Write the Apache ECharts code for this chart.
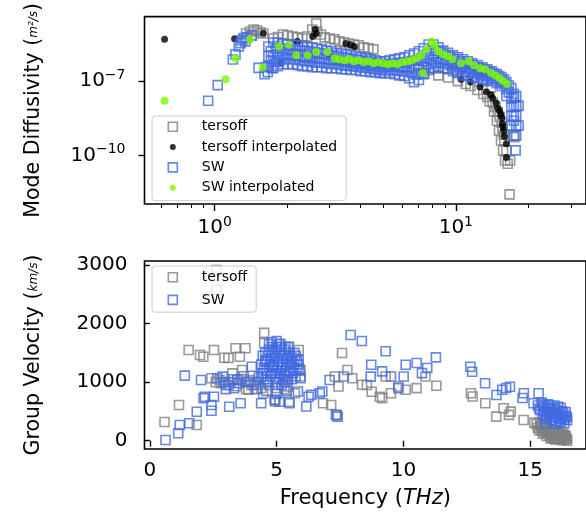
<!DOCTYPE html>
<html><head><meta charset="utf-8">
<script src="https://cdn.jsdelivr.net/npm/echarts@6/dist/echarts.min.js"></script>
<style>html,body{margin:0;padding:0;background:#fff}#c{width:586px;height:523px}</style>
</head><body><div id="c"></div>
<script>
// ---------- tick labels ----------
const topXTicks = [1, 10];
const topXMinorTicks = [0.6, 0.7, 0.8, 0.9, 2, 3, 4, 5, 6, 7, 8, 9, 20, 30];
const topYTicks = [1e-10, 1e-7];
const botXTicks = [0, 5, 10, 15];
const botYTicks = [0, 1000, 2000, 3000];

// ---------- top panel: mode diffusivity (m^2/s) vs frequency (THz) ----------
const topTersoff = [
 [1.35,8.3e-6],[1.40,1.0e-5],[1.45,1.2e-5],[1.50,1.1e-5],[1.55,9.1e-6],[1.59,8.3e-6],[1.42,7.0e-6],
 [1.75,5.2e-6],[1.83,6.0e-6],[1.92,7.6e-6],[2.01,6.9e-6],[2.11,6.3e-6],[2.21,5.8e-6],[2.31,5.2e-6],[2.42,6.3e-6],
 [2.54,1.2e-5],[2.64,2.1e-5],[2.66,1.0e-5],[2.76,7.6e-6],[2.86,5.8e-6],[3.00,5.2e-6],[3.14,4.8e-6],[3.29,4.0e-6],
 [3.45,3.6e-6],[3.61,3.3e-6],[3.78,3.0e-6],[3.96,2.8e-6],[4.15,2.3e-6],[4.34,2.1e-6],[4.55,1.9e-6],
 [2.50,1.0e-6],[3.50,6.0e-7],[5.00,4.0e-7],[6.00,3.5e-7],[7.00,3.0e-7],[7.40,2.0e-7],[7.90,3.3e-7],
 [8.46,1.7e-7],[9.29,1.4e-7],[10.2,1.0e-7],[11.0,7.6e-8],[11.5,6.3e-8],[12.3,4.4e-8],[13.0,3.0e-8],[13.5,2.3e-8],
 [14.2,1.4e-8],[14.6,9.1e-9],[14.9,5.8e-9],[15.2,3.6e-9],[15.5,2.1e-9],[15.6,1.2e-9],[15.8,6.9e-10],[15.9,4.0e-10],
 [16.2,1.6e-10],[16.4,4.6e-11],[16.7,2.7e-12],[16.8,6.3e-11],[17.5,5.4e-10],
 [13.8,1.5e-8],[14.4,6.0e-9],[14.8,2.5e-9],[15.1,1.0e-9],[15.4,4.0e-10],[15.7,1.6e-10],[16.0,6.3e-11],
 [9.0,3.3e-7],[10.0,2.8e-7],[11.0,2.1e-7],[12.0,1.5e-7],[13.0,1.0e-7],[14.0,5.5e-8]
];
const topTersoffInterp = [
 [0.62,4.9e-6],[1.21,5.1e-6],[1.59,8.5e-6],[1.88,5.4e-7],[2.61,1.2e-5],[2.64,8.5e-6],[2.55,6.3e-6],
 [3.50,3.3e-6],[3.66,2.9e-6],[3.80,2.5e-6],[2.20,4.0e-6],[3.00,1.0e-6],[5.00,5.0e-7],
 [10.5,1.2e-7],[11.5,9.1e-8],[12.6,5.8e-8],[13.4,3.6e-8],[14.2,2.1e-8],[14.7,1.3e-8],[15.2,6.3e-9],
 [15.5,3.3e-9],[15.6,1.9e-9],[15.8,1.0e-9],[15.9,5.8e-10],[16.2,3.0e-10],[16.2,8.3e-11],
 [14.0,2.8e-8],[14.9,8.0e-9],[15.35,4.5e-9],[15.7,1.4e-9]
];
// SW dense band, read column by column: upper edge, upper-middle, middle, lower-middle, lower edge
const swBandFreq = [1.67,1.75,1.83,1.92,2.01,2.11,2.21,2.31,2.42,2.54,2.66,2.78,2.91,3.05,3.2,3.35,3.51,3.67,3.85,4.03,
 4.22,4.42,4.63,4.85,5.08,5.32,5.58,5.84,6.12,6.41,6.71,7.03,7.36,7.71,8.08,8.46,8.86,9.29,9.73,10.2,
 10.7,11.2,11.7,12.3,12.9,13.5,14.1,14.8,15.5,16.2,17.0,17.8];
const swBandHigh = [2.5e-6,3.6e-6,3.6e-6,3.3e-6,3.0e-6,3.0e-6,2.8e-6,2.8e-6,2.5e-6,2.3e-6,
 2.1e-6,1.9e-6,1.7e-6,1.6e-6,1.4e-6,1.3e-6,1.2e-6,1.1e-6,1.0e-6,9.1e-7,
 8.3e-7,7.6e-7,6.9e-7,6.3e-7,6.3e-7,6.9e-7,7.6e-7,8.3e-7,9.1e-7,1.1e-6,
 1.3e-6,1.6e-6,2.1e-6,3.0e-6,3.0e-6,2.3e-6,1.7e-6,1.4e-6,1.1e-6,9.1e-7,
 7.6e-7,6.3e-7,5.2e-7,4.4e-7,3.6e-7,3.0e-7,2.5e-7,1.9e-7,1.4e-7,9.1e-8,5.3e-8,2.5e-8];
const swBandMid = [1.0e-6,1.1e-6,1.2e-6,1.3e-6,1.2e-6,1.2e-6,1.1e-6,1.0e-6,1.0e-6,9.1e-7,
 8.7e-7,8.3e-7,7.6e-7,7.2e-7,6.9e-7,6.3e-7,6.0e-7,5.5e-7,5.2e-7,4.8e-7,
 4.6e-7,4.2e-7,4.0e-7,3.6e-7,3.6e-7,3.8e-7,3.8e-7,3.8e-7,3.8e-7,3.8e-7,
 3.5e-7,4.2e-7,6.3e-7,9.1e-7,1.0e-6,9.1e-7,7.6e-7,6.6e-7,5.2e-7,4.4e-7,
 3.6e-7,3.2e-7,2.8e-7,2.4e-7,2.1e-7,1.8e-7,1.6e-7,1.3e-7,9.5e-8,4.8e-8,9.1e-9,4.0e-9];
const swBandLow = [4.0e-7,3.3e-7,4.0e-7,4.8e-7,4.8e-7,4.8e-7,4.4e-7,4.0e-7,4.0e-7,3.6e-7,
 3.6e-7,3.6e-7,3.3e-7,3.3e-7,3.3e-7,3.0e-7,3.0e-7,2.8e-7,2.8e-7,2.5e-7,
 2.5e-7,2.3e-7,2.3e-7,2.1e-7,2.1e-7,2.1e-7,1.9e-7,1.7e-7,1.6e-7,1.3e-7,
 9.1e-8,1.1e-7,1.9e-7,2.8e-7,3.3e-7,3.6e-7,3.3e-7,3.0e-7,2.5e-7,2.1e-7,
 1.7e-7,1.6e-7,1.4e-7,1.3e-7,1.2e-7,1.1e-7,1.0e-7,8.3e-8,6.3e-8,2.5e-8,1.6e-9,6.3e-10];
const swBandFreq2 = [1.71,1.79,1.87,1.96,2.06,2.16,2.26,2.36,2.48,2.60,2.72,2.85,2.98,3.12,3.27,3.43,3.59,3.76,3.94,4.12,
 4.32,4.52,4.74,4.96,5.20,5.44,5.71,5.98,6.26,6.56,6.87,7.19,7.53,7.89,8.27,8.66,9.07,9.51,9.96,10.44,
 10.95,11.46,11.97,12.59,13.20,13.82,14.43,15.15,15.86,16.58,17.40,18.2];
const swBandUpperMid = [1.6e-6,2.0e-6,2.1e-6,2.1e-6,1.9e-6,1.9e-6,1.75e-6,1.7e-6,1.6e-6,1.45e-6,
 1.35e-6,1.25e-6,1.14e-6,1.07e-6,9.8e-7,9.0e-7,8.5e-7,7.8e-7,7.2e-7,6.6e-7,
 6.2e-7,5.6e-7,5.3e-7,4.8e-7,4.8e-7,5.1e-7,5.4e-7,5.6e-7,5.9e-7,6.5e-7,
 6.7e-7,8.2e-7,1.15e-6,1.65e-6,1.7e-6,1.45e-6,1.14e-6,9.6e-7,7.6e-7,6.3e-7,
 5.2e-7,4.5e-7,3.8e-7,3.25e-7,2.75e-7,2.3e-7,2.0e-7,1.6e-7,1.15e-7,6.6e-8,2.2e-8,1.0e-8];
const swBandLowerMid = [6.3e-7,6.0e-7,6.9e-7,7.9e-7,7.6e-7,7.6e-7,7.0e-7,6.3e-7,6.3e-7,5.7e-7,
 5.6e-7,5.5e-7,5.0e-7,4.9e-7,4.8e-7,4.3e-7,4.2e-7,3.9e-7,3.8e-7,3.5e-7,
 3.4e-7,3.1e-7,3.0e-7,2.75e-7,2.75e-7,2.8e-7,2.7e-7,2.5e-7,2.5e-7,2.2e-7,
 1.8e-7,2.1e-7,3.5e-7,5.0e-7,5.7e-7,5.7e-7,5.0e-7,4.4e-7,3.6e-7,3.0e-7,
 2.5e-7,2.3e-7,2.0e-7,1.75e-7,1.6e-7,1.4e-7,1.25e-7,1.04e-7,7.7e-8,3.5e-8,3.8e-9,1.6e-9];
const swTopExtra = [
 [0.94,1.6e-8],[1.03,6.9e-8],[1.19,7.4e-7],[1.22,1.2e-6],[1.26,2.5e-6],[1.28,3.4e-6],[1.30,4.5e-6],[1.32,5.4e-6],
 [1.34,4.0e-6],[1.36,5.8e-6],[1.43,6.9e-6],[1.52,3.4e-7],[1.61,1.9e-7],[1.64,3.6e-7],[1.66,2.3e-7],[1.72,3.4e-7],
 [17.0,2.0e-8],[17.0,4.0e-9],[17.4,3.0e-8],[17.4,1.0e-8],[17.4,2.5e-9],[17.4,6.3e-10],[17.8,1.0e-8],[17.8,1.6e-9],
 [17.7,1.6e-10]
];
const topSWInterp = [
 [0.62,1.6e-8],[1.11,1.2e-7],[1.22,8.1e-7],[1.40,4.9e-6],[1.58,3.6e-7],[1.85,2.5e-6],[2.03,2.9e-6],
 [2.18,1.1e-6],[2.43,1.1e-6],[2.64,1.5e-6],[2.93,1.5e-6],
 [3.14,8.3e-7],[3.28,7.6e-7],[3.45,6.9e-7],[3.61,7.6e-7],[3.78,6.3e-7],[3.96,6.9e-7],[4.15,5.8e-7],
 [4.34,6.3e-7],[4.55,5.2e-7],[4.76,5.8e-7],[4.99,5.2e-7],[5.22,4.8e-7],[5.47,5.2e-7],[5.73,4.8e-7],
 [6.00,5.8e-7],[6.28,6.3e-7],[6.58,6.9e-7],[6.88,8.3e-7],[7.20,1.1e-6],[7.55,1.9e-6],[7.93,4.0e-6],
 [8.17,2.8e-6],[8.43,1.6e-6],[8.83,1.2e-6],[9.25,1.0e-6],[9.69,7.6e-7],[10.5,5.2e-7],[11.3,6.3e-7],
 [11.9,4.4e-7],[12.6,3.3e-7],[13.2,3.0e-7],[14.0,2.1e-7],[14.6,1.7e-7],[15.2,1.3e-7],[15.7,1.0e-7],
 [16.3,7.6e-8],[7.30,2.1e-7]
];

// ---------- bottom panel: group velocity (km/s) vs frequency (THz) ----------
const botTersoff = [
 [0.58,320],[1.15,609],[1.53,1548],[1.85,268],[1.98,1463],[2.11,1434],[2.53,1548],[2.43,1065],[2.75,1036],
 [2.94,1417],[3.10,1411],[3.26,1150],[3.38,1577],[3.55,1434],[3.77,1577],[3.64,1207],[3.96,1036],[3.89,869],
 [4.22,1000],[4.51,1840],[4.51,1669],[4.47,809],[4.92,695],[4.94,669],[5.44,926],[5.49,1605],[5.87,1548],
 [5.94,1211],[5.94,1097],[5.72,811],[5.49,666],[6.83,638],[7.15,609],[7.37,440],[7.30,1097],[7.58,1497],
 [7.44,926],[7.79,1207],[7.98,1065],[8.37,954],[8.56,951],[8.75,836],[9.07,751],[9.16,726],[9.30,1097],
 [9.51,811],[9.80,926],[10.09,869],[10.52,897],[10.87,1097],[11.30,937],
 [12.66,811],[12.73,754],[13.23,640],[13.66,411],[13.95,554],[14.16,440],[14.23,497],[14.74,354],[15.16,309],
 [2.60,1000],[2.80,980],[3.00,950],[3.20,1000],[3.40,930],[3.60,1050],[3.80,880],[4.00,950],[4.20,1000],[4.40,900],
 [4.80,1300],[5.20,1450],[5.40,1100],[5.00,900],[4.70,950],[5.30,880],
 [2.62,2914],[2.62,2572],
 [15.25,280],[15.30,220],[15.40,250],[15.45,170],[15.50,120],[15.55,210],[15.60,150],[15.65,80],[15.70,190],
 [15.75,110],[15.80,40],[15.85,150],[15.90,70],[15.95,120],[16.00,20],[16.05,90],[16.10,140],[16.15,40],
 [16.20,100],[16.25,10],[16.30,60],[16.35,20],[16.40,80],[16.45,30],[15.65,260],[15.40,320],[15.90,200],
 [15.35,180],[15.45,250],[15.55,160],[15.60,220],[15.70,130],[15.75,180],[15.80,100],[15.85,50],[15.90,130],
 [16.00,90],[16.05,150],[16.10,60],[16.20,40],[16.25,80],[16.30,120],[16.40,50],[16.45,0],[16.35,90],
 [15.95,30],[15.50,270]
];
const botSW = [
 [0.62,11],[1.12,126],[1.18,268],[1.56,297],[1.38,1110],[1.85,495],[2.02,1036],[2.12,726],[2.17,751],
 [2.53,751],[2.43,609],[2.43,512],[2.66,1065],[2.87,1093],[3.13,580],[3.32,894],[3.58,638],[3.45,1036],
 [3.77,1007],[4.02,1263],[4.39,640],[4.94,697],[5.11,666],[5.51,640],[5.84,840],[5.87,1377],[5.94,1065],
 [6.17,583],[6.26,751],[6.37,783],[6.70,809],[6.80,840],[7.09,1036],[7.34,439],[7.41,411],[7.65,1097],
 [7.92,1804],[8.36,1702],[8.73,1297],[8.71,1093],[9.16,1183],[9.30,1526],[9.51,1097],[9.80,897],[10.01,1097],
 [10.09,1297],[10.52,1326],[10.73,1154],[10.94,1240],[11.28,1423],
 [12.64,1263],[12.71,1178],[13.22,980],[13.67,780],[13.90,870],[14.05,900],[14.20,920],[14.70,730],[14.75,810],
 [15.13,638],[15.33,809],
 [2.90,1000],[3.10,950],[3.30,1050],[3.50,980],[3.70,1100],[3.90,1000],[4.10,950],[4.30,1080],[4.20,880],[3.00,880],
 [4.50,1050],[4.60,1200],[4.60,1380],[4.70,1550],[4.80,1680],[4.75,1100],[4.85,1280],[4.90,1450],[4.95,1000],
 [5.00,1600],[5.00,1200],[5.05,1350],[5.10,1500],[5.10,1080],[5.15,1650],[5.20,1250],[5.25,1400],[5.30,1550],
 [5.30,1120],[5.35,1000],[5.40,1300],[5.45,1450],[5.50,1180],[5.55,1350],[5.60,1050],[5.65,1250],[5.70,1500],
 [5.75,1100],[5.80,1380],[4.55,1500],[4.40,1300],[4.45,1150],[5.90,1200],[5.00,1700],[4.90,1150],[5.20,1600],
 [4.65,1000],[5.45,1600],[5.60,1420],[4.60,850],[5.00,800],[5.40,850],[5.20,950],
 [4.50,1250],[4.55,1350],[4.60,1050],[4.65,1450],[4.70,1250],[4.70,1650],[4.75,1400],[4.80,1150],[4.80,1500],
 [4.85,1600],[4.90,1300],[4.95,1550],[5.00,1400],[5.00,1050],[5.05,1250],[5.10,1650],[5.10,1350],[5.15,1150],
 [5.20,1450],[5.25,1050],[5.25,1300],[5.30,1450],[5.35,1200],[5.35,1600],[5.40,1400],[5.45,1050],[5.50,1300],
 [5.50,1500],[5.55,1200],[5.60,1350],[5.65,1150],[5.70,1300],[5.75,1450],[5.80,1200],[4.45,1450],[4.40,1100],
 [5.85,1300],
 [15.30,600],[15.40,520],[15.45,650],[15.50,450],[15.55,580],[15.60,380],[15.65,500],[15.70,620],[15.75,430],
 [15.80,550],[15.85,350],[15.90,480],[15.95,600],[16.00,400],[16.05,520],[16.10,330],[16.15,450],[16.20,560],
 [16.25,380],[16.30,480],[16.35,300],[16.40,420],[16.45,350],[15.60,300],[16.00,290],
 [15.35,550],[15.50,620],[15.55,500],[15.65,420],[15.70,560],[15.80,470],[15.90,400],[15.95,540],[16.05,440],
 [16.10,580],[16.15,370],[16.25,500],[16.30,420],[16.40,490],[16.45,400],[15.75,600],[16.20,320],[16.35,360]
];

// ---------- build ----------
const swTop = [];
swBandFreq.forEach((f, i) => {
  swTop.push([f, swBandHigh[i]], [f, swBandMid[i]], [f, swBandLow[i]]);
});
swBandFreq2.forEach((f, i) => {
  swTop.push([f, swBandUpperMid[i]], [f, swBandLowerMid[i]]);
});
swTopExtra.forEach(p => swTop.push(p));

const FONT = 'DejaVu Sans';
const GRAY = '#808080', BLUE = '#4169E1', GREEN = '#7CFC00', BLACK = '#000000';
const sqIcon = 'path://M0,0 M22,14 M2.5,2.5 L11.5,2.5 L11.5,11.5 L2.5,11.5 Z';
const dotIcon = 'path://M0,0 M22,14 M10,7 A3,3 0 1 1 4,7 A3,3 0 1 1 10,7 Z';
const sqStyle = c => ({color: 'rgba(0,0,0,0)', borderColor: c, borderWidth: 1.6});

function pow10Label(v) {
  const e = Math.round(Math.log10(v));
  return '{b|10}{s|' + (e < 0 ? '\u2212' + (-e) : String(e)) + '}';
}
const plainLabel = v => String(v);
const richPow = {
  b: {fontSize: 20, fontFamily: FONT, color: '#000', verticalAlign: 'bottom', lineHeight: 20},
  s: {fontSize: 14, fontFamily: FONT, color: '#000', verticalAlign: 'bottom', lineHeight: 14, padding: [0, 0, 9, 0]}
};
const tickStyle = {color: '#000', width: 1.4};
const xTopMin = 0.5119, xTopMax = 34.65, yTopMin = 1.1e-12, yTopMax = 3.98e-5;

const chart = echarts.init(document.getElementById('c'), null, {renderer: 'canvas'});
chart.setOption({
  animation: false,
  backgroundColor: '#fff',
  textStyle: {fontFamily: FONT},
  grid: [
    {left: 144.5, top: 15, width: 454.5, height: 189, show: true, borderColor: '#000', borderWidth: 1.6},
    {left: 144.5, top: 261, width: 454.5, height: 188, show: true, borderColor: '#000', borderWidth: 1.6}
  ],
  xAxis: [
    {type: 'log', logBase: 10, gridIndex: 0, min: xTopMin, max: xTopMax, position: 'bottom',
     axisLine: {show: false}, splitLine: {show: false},
     axisTick: {show: true, length: 7, lineStyle: tickStyle, customValues: topXTicks},
     axisLabel: {show: true, customValues: topXTicks, formatter: pow10Label, rich: richPow, margin: 14}},
    {type: 'log', logBase: 10, gridIndex: 0, min: xTopMin, max: xTopMax, position: 'bottom',
     axisLine: {show: false}, splitLine: {show: false},
     axisTick: {show: true, length: 4, lineStyle: {color: '#000', width: 1.1}, customValues: topXMinorTicks},
     axisLabel: {show: false}},
    {type: 'value', gridIndex: 1, min: -0.21, max: 17.2, position: 'bottom',
     axisLine: {show: false}, splitLine: {show: false},
     axisTick: {show: true, length: 6, lineStyle: tickStyle, customValues: botXTicks},
     axisLabel: {customValues: botXTicks, formatter: plainLabel, fontSize: 20, fontFamily: FONT, color: '#000', margin: 12},
     name: '{n|Frequency (}{i|THz}{n|)}', nameLocation: 'middle', nameGap: 39,
     nameTextStyle: {rich: {
       n: {fontSize: 21, fontFamily: FONT, color: '#000'},
       i: {fontSize: 21, fontFamily: FONT, color: '#000', fontStyle: 'italic'}}}}
  ],
  yAxis: [
    {type: 'log', logBase: 10, gridIndex: 0, min: yTopMin, max: yTopMax,
     axisLine: {show: false}, splitLine: {show: false},
     axisTick: {show: true, length: 6, lineStyle: tickStyle, customValues: topYTicks},
     axisLabel: {show: true, customValues: topYTicks, formatter: pow10Label, rich: richPow, margin: 19},
     name: '{t|Mode Diffusivity (}{f|m\u00b2/s}{t|)}', nameLocation: 'middle', nameGap: 100, nameRotate: 90,
     nameTextStyle: {rich: {
       t: {fontSize: 20.5, fontFamily: FONT, color: '#000'},
       f: {fontSize: 12, fontFamily: FONT, color: '#000', fontStyle: 'italic'}}}},
    {type: 'value', gridIndex: 1, min: -142, max: 3068,
     axisLine: {show: false}, splitLine: {show: false},
     axisTick: {show: true, length: 6, lineStyle: tickStyle, customValues: botYTicks},
     axisLabel: {customValues: botYTicks, formatter: plainLabel, fontSize: 20, fontFamily: FONT, color: '#000', margin: 17},
     name: '{t|Group Velocity (}{f|km/s}{t|)}', nameLocation: 'middle', nameGap: 100, nameRotate: 90,
     nameTextStyle: {rich: {
       t: {fontSize: 20.5, fontFamily: FONT, color: '#000'},
       f: {fontSize: 12, fontFamily: FONT, color: '#000', fontStyle: 'italic'}}}}
  ],
  legend: [
    {left: 152, top: 116, orient: 'vertical', itemWidth: 40, itemHeight: 14, itemGap: 5.5,
     padding: [3, 9, 6, 13], backgroundColor: 'rgba(255,255,255,0.8)', borderColor: '#cccccc',
     borderWidth: 1, borderRadius: 3, selectedMode: false,
     textStyle: {fontSize: 14, fontFamily: FONT, color: '#000'},
     data: [
       {name: 'tersoff', icon: sqIcon, itemStyle: sqStyle(GRAY)},
       {name: 'tersoff interpolated', icon: dotIcon, itemStyle: {color: BLACK, borderWidth: 0}},
       {name: 'SW', icon: sqIcon, itemStyle: sqStyle(BLUE)},
       {name: 'SW interpolated', icon: dotIcon, itemStyle: {color: GREEN, borderWidth: 0}}
     ]},
    {left: 152, top: 266, orient: 'vertical', itemWidth: 40, itemHeight: 14, itemGap: 7,
     padding: [3.5, 9, 4.5, 13], backgroundColor: 'rgba(255,255,255,0.8)', borderColor: '#cccccc',
     borderWidth: 1, borderRadius: 3, selectedMode: false,
     textStyle: {fontSize: 14, fontFamily: FONT, color: '#000'},
     data: [
       {name: 'tersoff', icon: sqIcon, itemStyle: sqStyle(GRAY)},
       {name: 'SW', icon: sqIcon, itemStyle: sqStyle(BLUE)}
     ]}
  ],
  series: [
    {name: 'tersoff', type: 'scatter', xAxisIndex: 0, yAxisIndex: 0, data: topTersoff,
     symbol: 'rect', symbolSize: 9, itemStyle: sqStyle(GRAY), silent: true, emphasis: {disabled: true}},
    {name: 'tersoff interpolated', type: 'scatter', xAxisIndex: 0, yAxisIndex: 0, data: topTersoffInterp,
     symbol: 'circle', symbolSize: 7, itemStyle: {color: BLACK}, silent: true, emphasis: {disabled: true}},
    {name: 'SW', type: 'scatter', xAxisIndex: 0, yAxisIndex: 0, data: swTop,
     symbol: 'rect', symbolSize: 9, itemStyle: sqStyle(BLUE), silent: true, emphasis: {disabled: true}},
    {name: 'SW interpolated', type: 'scatter', xAxisIndex: 0, yAxisIndex: 0, data: topSWInterp,
     symbol: 'circle', symbolSize: 8, itemStyle: {color: GREEN}, silent: true, emphasis: {disabled: true}},
    {name: 'tersoff', type: 'scatter', xAxisIndex: 2, yAxisIndex: 1, data: botTersoff,
     symbol: 'rect', symbolSize: 9, itemStyle: sqStyle(GRAY), silent: true, emphasis: {disabled: true}},
    {name: 'SW', type: 'scatter', xAxisIndex: 2, yAxisIndex: 1, data: botSW,
     symbol: 'rect', symbolSize: 9, itemStyle: sqStyle(BLUE), silent: true, emphasis: {disabled: true}}
  ]
});
</script></body></html>
